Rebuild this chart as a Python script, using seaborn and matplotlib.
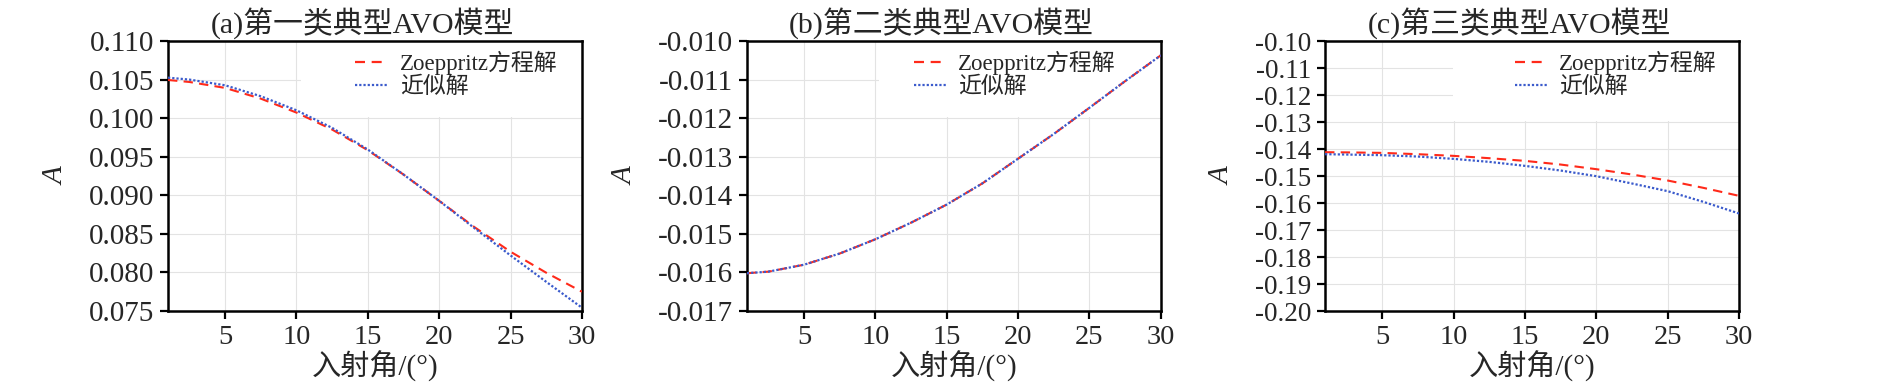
import matplotlib
matplotlib.use("Agg")
import matplotlib.pyplot as plt
from matplotlib.patches import Rectangle
import seaborn as sns
import pandas as pd

# ---------------- data ----------------
angle = [1, 2.5, 5, 7.5, 10, 12.5, 15, 17.5, 20, 22.5, 25, 27.5, 30]

a_zoe = [0.10495, 0.10469, 0.10392, 0.10253, 0.10072, 0.09852, 0.09584,
         0.09269, 0.08928, 0.08583, 0.08268, 0.07996, 0.07750]
a_app = [0.10525, 0.10500, 0.10426, 0.10284, 0.10102, 0.09874, 0.09593,
         0.09269, 0.08928, 0.08570, 0.08220, 0.07878, 0.07543]

b_zoe = [-0.01602, -0.01598, -0.01580, -0.01551, -0.01514, -0.01471, -0.01424,
         -0.01369, -0.01305, -0.01241, -0.01173, -0.01104, -0.01037]
b_app = [-0.01602, -0.01598, -0.01580, -0.01551, -0.01514, -0.01471, -0.01424,
         -0.01369, -0.01305, -0.01241, -0.01173, -0.01104, -0.01037]

c_zoe = [-0.14118, -0.14125, -0.14143, -0.14192, -0.14254, -0.14340, -0.14439,
         -0.14575, -0.14747, -0.14944, -0.15166, -0.15438, -0.15734]
c_app = [-0.14192, -0.14205, -0.14229, -0.14279, -0.14365, -0.14476, -0.14624,
         -0.14797, -0.15006, -0.15277, -0.15561, -0.15956, -0.16387]

titles = ["(a)第一类典型AVO模型", "(b)第二类典型AVO模型", "(c)第三类典型AVO模型"]
series_names = ["Zoeppritz方程解", "近似解"]
xlabel = "入射角/(°)"
ylabel = "A"
xticks = [5, 10, 15, 20, 25, 30]
yticks_a = [0.075, 0.080, 0.085, 0.090, 0.095, 0.100, 0.105, 0.110]
yticks_b = [-0.017, -0.016, -0.015, -0.014, -0.013, -0.012, -0.011, -0.010]
yticks_c = [-0.20, -0.19, -0.18, -0.17, -0.16, -0.15, -0.14, -0.13, -0.12, -0.11, -0.10]

# ---------------- style ----------------
sns.set_theme(style="whitegrid")
plt.rcParams["font.family"] = ["Liberation Serif", "Noto Sans CJK SC"]
plt.rcParams["axes.unicode_minus"] = False
plt.rcParams["axes.edgecolor"] = "black"
plt.rcParams["axes.linewidth"] = 1.6
plt.rcParams["grid.color"] = "#e3e3e3"
plt.rcParams["grid.linewidth"] = 0.8

fig = plt.figure(figsize=(18.9, 3.91), dpi=100)

panels = [
    (a_zoe, a_app, yticks_a, "{:.3f}", 21, 0.0889, (0.321, 0.719), 0.452),
    (b_zoe, b_app, yticks_b, "{:.3f}", 21, 0.3952, (0.318, 0.719), 0.403),
    (c_zoe, c_app, yticks_c, "{:.2f}", 19.5, 0.7011, (0.310, 0.704), 0.458),
]
ax_w, ax_b, ax_h = 0.2190, 0.2046, 0.6905

red = "#ff2a1a"
blue = "#3b5bcc"

for i, (zoe, app, yt, fmt, yfs, left, box, legx) in enumerate(panels):
    ax = fig.add_axes([left, ax_b, ax_w, ax_h])
    ax.add_patch(Rectangle(box, 1 - box[0], 1 - box[1], transform=ax.transAxes,
                           facecolor="white", edgecolor="none", zorder=1))
    df = pd.DataFrame({"angle": angle, "zoe": zoe, "app": app})
    sns.lineplot(data=df, x="angle", y="zoe", ax=ax, color=red, lw=1.5,
                 label=series_names[0], zorder=3)
    sns.lineplot(data=df, x="angle", y="app", ax=ax, color=blue, lw=1.6,
                 label=series_names[1], zorder=3)
    ax.lines[0].set_dashes((4.5, 3.0))
    ax.lines[1].set_dashes((1.0, 0.9))
    ax.set_xlim(1, 30)
    ax.set_xticks(xticks)
    ax.set_xticklabels([str(t) for t in xticks], fontsize=20.5)
    ax.set_ylim(yt[0], yt[-1])
    ax.set_yticks(yt)
    ax.set_yticklabels([fmt.format(t) for t in yt], fontsize=yfs)
    ax.tick_params(axis="both", direction="out", length=6, width=1.6,
                   color="black", pad=4, bottom=True, left=True)
    for s in ax.spines.values():
        s.set_color("black")
        s.set_linewidth(1.8)
    ax.set_title(titles[i], fontsize=21.5, pad=6, x=0.47)
    ax.set_xlabel(xlabel, fontsize=21, labelpad=1)
    ax.set_ylabel(ylabel, fontsize=21, fontstyle="italic", labelpad=14)
    leg = ax.legend(loc="upper left", bbox_to_anchor=(legx, 0.965),
                    frameon=False, fontsize=16.5, borderpad=0, borderaxespad=0,
                    handlelength=1.45, handletextpad=0.5, labelspacing=0.08)
    for h in leg.get_lines():
        h.set_linewidth(1.6)

fig.savefig("out.png", dpi=100)
